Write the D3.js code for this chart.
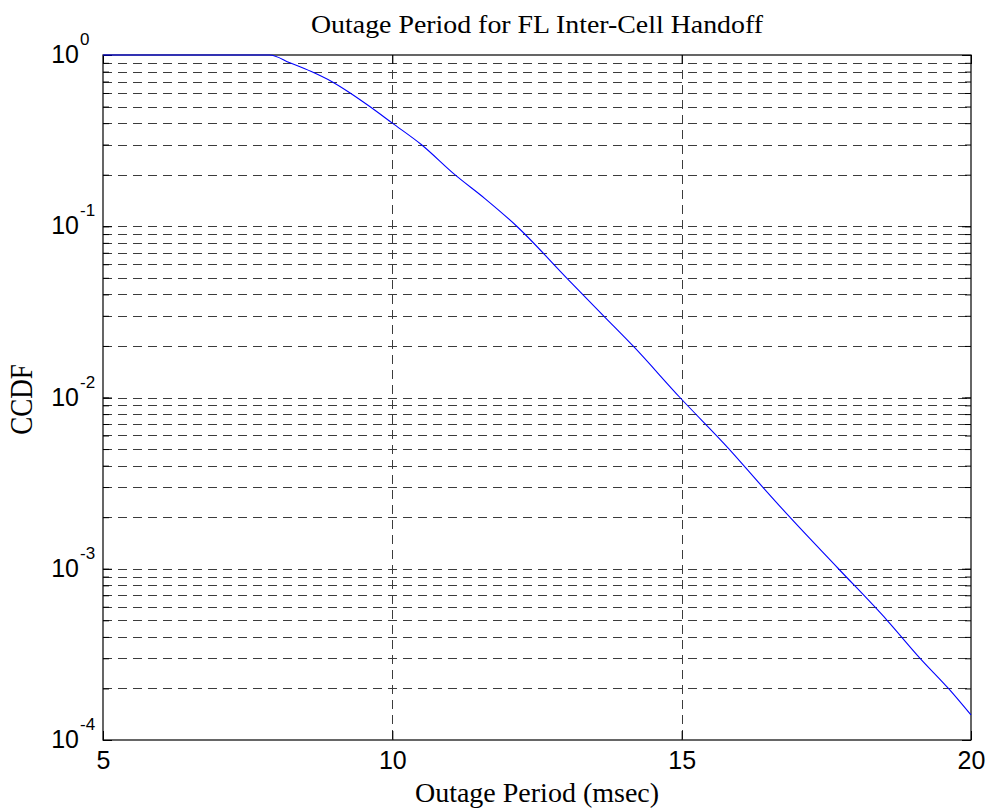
<!DOCTYPE html>
<html>
<head>
<meta charset="utf-8">
<script src="https://cdn.jsdelivr.net/npm/d3@7"></script>
<style>
  html, body { margin: 0; padding: 0; background: #fff; }
  svg { display: block; }
</style>
</head>
<body>
<svg id="chart" width="989" height="812"></svg>
<script>
// ---- data ----
const titleText = "Outage Period for FL Inter-Cell Handoff";
const xLabelText = "Outage Period (msec)";
const yLabelText = "CCDF";
const xTicks = [5, 10, 15, 20];
const yDecadeExps = [-4, -3, -2, -1, 0];
const outageMs = [5, 7.88, 8.23, 8.6, 8.95, 9.27, 9.61, 10, 10.5, 11.08, 11.6, 12.15, 13.01, 13.65, 14.16, 14.97, 15.82, 16.4, 16.87, 17.71, 18.55, 19.12, 19.61, 20];
const ccdf =     [1, 1, 0.9, 0.8, 0.7, 0.6, 0.5, 0.40, 0.3, 0.2, 0.145, 0.1, 0.05, 0.03, 0.02, 0.01, 0.005, 0.003, 0.002, 0.001, 0.0005, 0.0003, 0.0002, 0.00014];

// ---- layout ----
const L = 103, R = 971, T = 55, B = 740;
const svg = d3.select("#chart");
svg.append("rect").attr("width", 989).attr("height", 812).attr("fill", "#fff");

const x = d3.scaleLinear().domain([5, 20]).range([L, R]);
const y = d3.scaleLog().domain([1e-4, 1]).range([B, T]);

// all log-grid values
const yGridVals = [];
for (let e = -4; e < 0; e++) {
  for (let k = 1; k <= 9; k++) yGridVals.push(k * Math.pow(10, e));
}
const yMajorVals = yDecadeExps.map(e => Math.pow(10, e));

const gridColor = "#3c3c3c";
const dash = "9,6";

// horizontal grid
svg.append("g").selectAll("line")
  .data(yGridVals.filter(v => v > 1e-4 + 1e-12))
  .join("line")
  .attr("x1", L).attr("x2", R)
  .attr("y1", d => Math.round(y(d)) + 0.5).attr("y2", d => Math.round(y(d)) + 0.5)
  .attr("stroke", gridColor).attr("stroke-width", 1)
  .attr("stroke-dasharray", dash);

// vertical grid
svg.append("g").selectAll("line")
  .data(xTicks.filter(v => v > 5 && v < 20))
  .join("line")
  .attr("x1", d => Math.round(x(d)) + 0.5).attr("x2", d => Math.round(x(d)) + 0.5)
  .attr("y1", T).attr("y2", B)
  .attr("stroke", gridColor).attr("stroke-width", 1)
  .attr("stroke-dasharray", dash);

// axes (ticks inside)
const axisFont = "'Liberation Sans', Arial, sans-serif";
const gx = svg.append("g").attr("transform", `translate(0,${B})`)
  .call(d3.axisBottom(x).tickValues(xTicks).tickSizeInner(-9).tickSizeOuter(0).tickPadding(11).tickFormat(d3.format("d")));
const gxTop = svg.append("g").attr("transform", `translate(0,${T})`)
  .call(d3.axisTop(x).tickValues(xTicks).tickSizeInner(-9).tickSizeOuter(0).tickFormat(""));
const gyMinor = svg.append("g").attr("transform", `translate(${L},0)`)
  .call(d3.axisLeft(y).tickValues(yGridVals).tickSizeInner(-6).tickSizeOuter(0).tickFormat(""));
const gyMajor = svg.append("g").attr("transform", `translate(${L},0)`)
  .call(d3.axisLeft(y).tickValues(yMajorVals).tickSizeInner(-9).tickSizeOuter(0).tickFormat(""));
const gyRMinor = svg.append("g").attr("transform", `translate(${R},0)`)
  .call(d3.axisRight(y).tickValues(yGridVals).tickSizeInner(-6).tickSizeOuter(0).tickFormat(""));
const gyRMajor = svg.append("g").attr("transform", `translate(${R},0)`)
  .call(d3.axisRight(y).tickValues(yMajorVals).tickSizeInner(-9).tickSizeOuter(0).tickFormat(""));

svg.selectAll(".domain").remove();
svg.selectAll(".tick line").attr("stroke", "#000").attr("stroke-width", 1);
gx.selectAll("text").attr("font-family", axisFont).attr("font-size", 25).attr("fill", "#000");

// box
svg.append("rect").attr("x", L).attr("y", T).attr("width", R - L).attr("height", B - T)
  .attr("fill", "none").attr("stroke", "#000").attr("stroke-width", 1.2);

// y tick labels 10^e
const yl = svg.append("g");
yDecadeExps.forEach(e => {
  const py = y(Math.pow(10, e));
  yl.append("text").attr("x", 79).attr("y", py + 8).attr("text-anchor", "end")
    .attr("font-family", axisFont).attr("font-size", 25).attr("fill", "#000").text("10");
  yl.append("text").attr("x", 80).attr("y", py - 10).attr("text-anchor", "start")
    .attr("font-family", axisFont).attr("font-size", 17).attr("fill", "#000").text(String(e));
});

// curve
const pts = outageMs.map((v, i) => [v, ccdf[i]]);
svg.append("path").datum(pts)
  .attr("d", d3.line().x(d => x(d[0])).y(d => y(d[1])).curve(d3.curveMonotoneX))
  .attr("fill", "none").attr("stroke", "#0000ff").attr("stroke-width", 1.1);

// titles
const serif = "'Liberation Serif', 'Times New Roman', serif";
svg.append("text").attr("x", (L + R) / 2).attr("y", 33).attr("text-anchor", "middle")
  .attr("font-family", serif).attr("font-size", 25).attr("fill", "#000")
  .attr("textLength", 452).attr("lengthAdjust", "spacingAndGlyphs")
  .text(titleText);
svg.append("text").attr("x", (L + R) / 2).attr("y", 802).attr("text-anchor", "middle")
  .attr("font-family", serif).attr("font-size", 28).attr("fill", "#000")
  .text(xLabelText);
svg.append("text").attr("transform", `translate(32,${(T + B) / 2 + 2}) rotate(-90) scale(1,1.2)`)
  .attr("text-anchor", "middle")
  .attr("font-family", serif).attr("font-size", 27).attr("fill", "#000")
  .text(yLabelText);
</script>
</body>
</html>
